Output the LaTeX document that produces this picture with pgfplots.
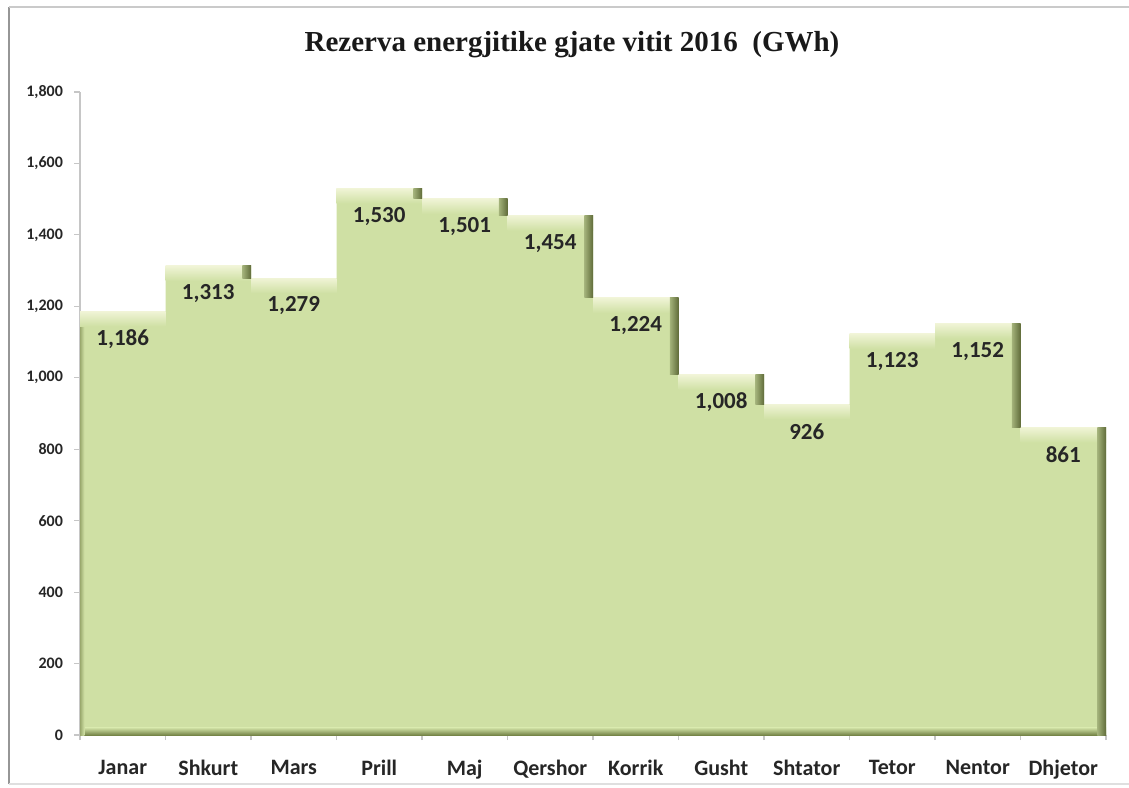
\documentclass[border=0pt]{standalone}
\usepackage{fontspec}
\setmainfont{Carlito}
\newfontfamily\titlefont{Liberation Serif}
\usepackage{pgfplots}
\pgfplotsset{compat=1.18}
\definecolor{mainfill}{RGB}{207,224,164}
\definecolor{topface}{RGB}{240,244,214}
\definecolor{sidedark}{RGB}{96,108,58}
\definecolor{shadow}{RGB}{118,133,72}
\definecolor{frame}{RGB}{150,150,150}
\begin{document}
\begin{tikzpicture}
\useasboundingbox (0,0) rectangle (564.5pt,393.5pt);
\fill[white] (0,0) rectangle (564.5pt,393.5pt);
\draw[frame, line width=1.4pt] (4.5pt,1.5pt) -- (4.5pt,390pt);
\draw[frame!50, line width=1pt] (4.5pt,390pt) -- (564.5pt,390pt);
\draw[frame!30, line width=0.6pt] (4.5pt,1.5pt) -- (564.5pt,1.5pt);
\node[font=\titlefont\bfseries\fontsize{14.5}{17}\selectfont, text=black!90] at (286pt,371pt) {Rezerva energjitike gjate vitit 2016\ \ (GWh)};
\begin{axis}[
  at={(40pt,26pt)}, anchor=south west,
  scale only axis, width=513pt, height=321.5pt,
  xmin=0, xmax=12, ymin=0, ymax=1800,
  axis x line*=bottom, axis y line*=left,
  axis line style={draw=gray!45, line width=0.6pt, -},
  tick align=outside,
  xtick={0.5,1.5,2.5,3.5,4.5,5.5,6.5,7.5,8.5,9.5,10.5,11.5},
  xticklabels={Janar,Shkurt,Mars,Prill,Maj,Qershor,Korrik,Gusht,Shtator,Tetor,Nentor,Dhjetor},
  major x tick style={draw=none},
  minor xtick={0,1,2,3,4,5,6,7,8,9,10,11,12},
  minor tick length=2.5pt,
  minor x tick style={gray!45, line width=0.6pt},
  ytick={0,200,400,600,800,1000,1200,1400,1600,1800},
  major tick length=3pt,
  major y tick style={gray!45, line width=0.6pt},
  /pgf/number format/assume math mode=true,
  /pgf/number format/1000 sep={,},
  yticklabel style={font=\bfseries\fontsize{8}{9}\selectfont, xshift=-2pt, text=black!85},
  xticklabel style={font=\bfseries\fontsize{11}{13}\selectfont, yshift=-6pt, text=black!85},
  clip=false,
]
% main area
\addplot[const plot mark left, fill=mainfill, draw=none] coordinates {
(0,1186)(1,1313)(2,1279)(3,1530)(4,1501)(5,1454)(6,1224)(7,1008)(8,926)(9,1123)(10,1152)(11,861)(12,861)} \closedcycle;
% bottom shadow and left edge
\addplot[draw=none, top color=mainfill, bottom color=shadow] coordinates {(0,0)(12,0)(12,20)(0,20)} -- cycle;
\addplot[draw=none, left color=shadow!60!mainfill, right color=mainfill] coordinates {(0,0)(0.05,0)(0.05,1186)(0,1186)} -- cycle;
% top faces
\addplot[draw=none, top color=topface, bottom color=mainfill] coordinates {(0,1144)(1,1144)(1,1186)(0,1186)} -- cycle;
\addplot[draw=none, top color=topface, bottom color=mainfill] coordinates {(1,1271)(2,1271)(2,1313)(1,1313)} -- cycle;
\addplot[draw=none, top color=topface, bottom color=mainfill] coordinates {(2,1237)(3,1237)(3,1279)(2,1279)} -- cycle;
\addplot[draw=none, top color=topface, bottom color=mainfill] coordinates {(3,1488)(4,1488)(4,1530)(3,1530)} -- cycle;
\addplot[draw=none, top color=topface, bottom color=mainfill] coordinates {(4,1459)(5,1459)(5,1501)(4,1501)} -- cycle;
\addplot[draw=none, top color=topface, bottom color=mainfill] coordinates {(5,1412)(6,1412)(6,1454)(5,1454)} -- cycle;
\addplot[draw=none, top color=topface, bottom color=mainfill] coordinates {(6,1182)(7,1182)(7,1224)(6,1224)} -- cycle;
\addplot[draw=none, top color=topface, bottom color=mainfill] coordinates {(7,966)(8,966)(8,1008)(7,1008)} -- cycle;
\addplot[draw=none, top color=topface, bottom color=mainfill] coordinates {(8,884)(9,884)(9,926)(8,926)} -- cycle;
\addplot[draw=none, top color=topface, bottom color=mainfill] coordinates {(9,1081)(10,1081)(10,1123)(9,1123)} -- cycle;
\addplot[draw=none, top color=topface, bottom color=mainfill] coordinates {(10,1110)(11,1110)(11,1152)(10,1152)} -- cycle;
\addplot[draw=none, top color=topface, bottom color=mainfill] coordinates {(11,819)(12,819)(12,861)(11,861)} -- cycle;
% side faces at down steps
\addplot[draw=none, left color=mainfill!60!sidedark, right color=sidedark] coordinates {(1.9,1279)(2,1279)(2,1313)(1.9,1313)} -- cycle;
\addplot[draw=none, left color=mainfill!60!sidedark, right color=sidedark] coordinates {(3.9,1501)(4,1501)(4,1530)(3.9,1530)} -- cycle;
\addplot[draw=none, left color=mainfill!60!sidedark, right color=sidedark] coordinates {(4.9,1454)(5,1454)(5,1501)(4.9,1501)} -- cycle;
\addplot[draw=none, left color=mainfill!60!sidedark, right color=sidedark] coordinates {(5.9,1224)(6,1224)(6,1454)(5.9,1454)} -- cycle;
\addplot[draw=none, left color=mainfill!60!sidedark, right color=sidedark] coordinates {(6.9,1008)(7,1008)(7,1224)(6.9,1224)} -- cycle;
\addplot[draw=none, left color=mainfill!60!sidedark, right color=sidedark] coordinates {(7.9,926)(8,926)(8,1008)(7.9,1008)} -- cycle;
\addplot[draw=none, left color=mainfill!60!sidedark, right color=sidedark] coordinates {(10.9,861)(11,861)(11,1152)(10.9,1152)} -- cycle;
\addplot[draw=none, left color=mainfill!60!sidedark, right color=sidedark] coordinates {(11.9,0)(12,0)(12,861)(11.9,861)} -- cycle;
% data labels
\addplot[draw=none, mark=none, nodes near coords,
  nodes near coords style={anchor=center, yshift=-13.8pt, font=\bfseries\fontsize{11.5}{13}\selectfont, text=black!85}]
  coordinates {(0.5,1186)(1.5,1313)(2.5,1279)(3.5,1530)(4.5,1501)(5.5,1454)(6.5,1224)(7.5,1008)(8.5,926)(9.5,1123)(10.5,1152)(11.5,861)};
\end{axis}
\end{tikzpicture}
\end{document}
